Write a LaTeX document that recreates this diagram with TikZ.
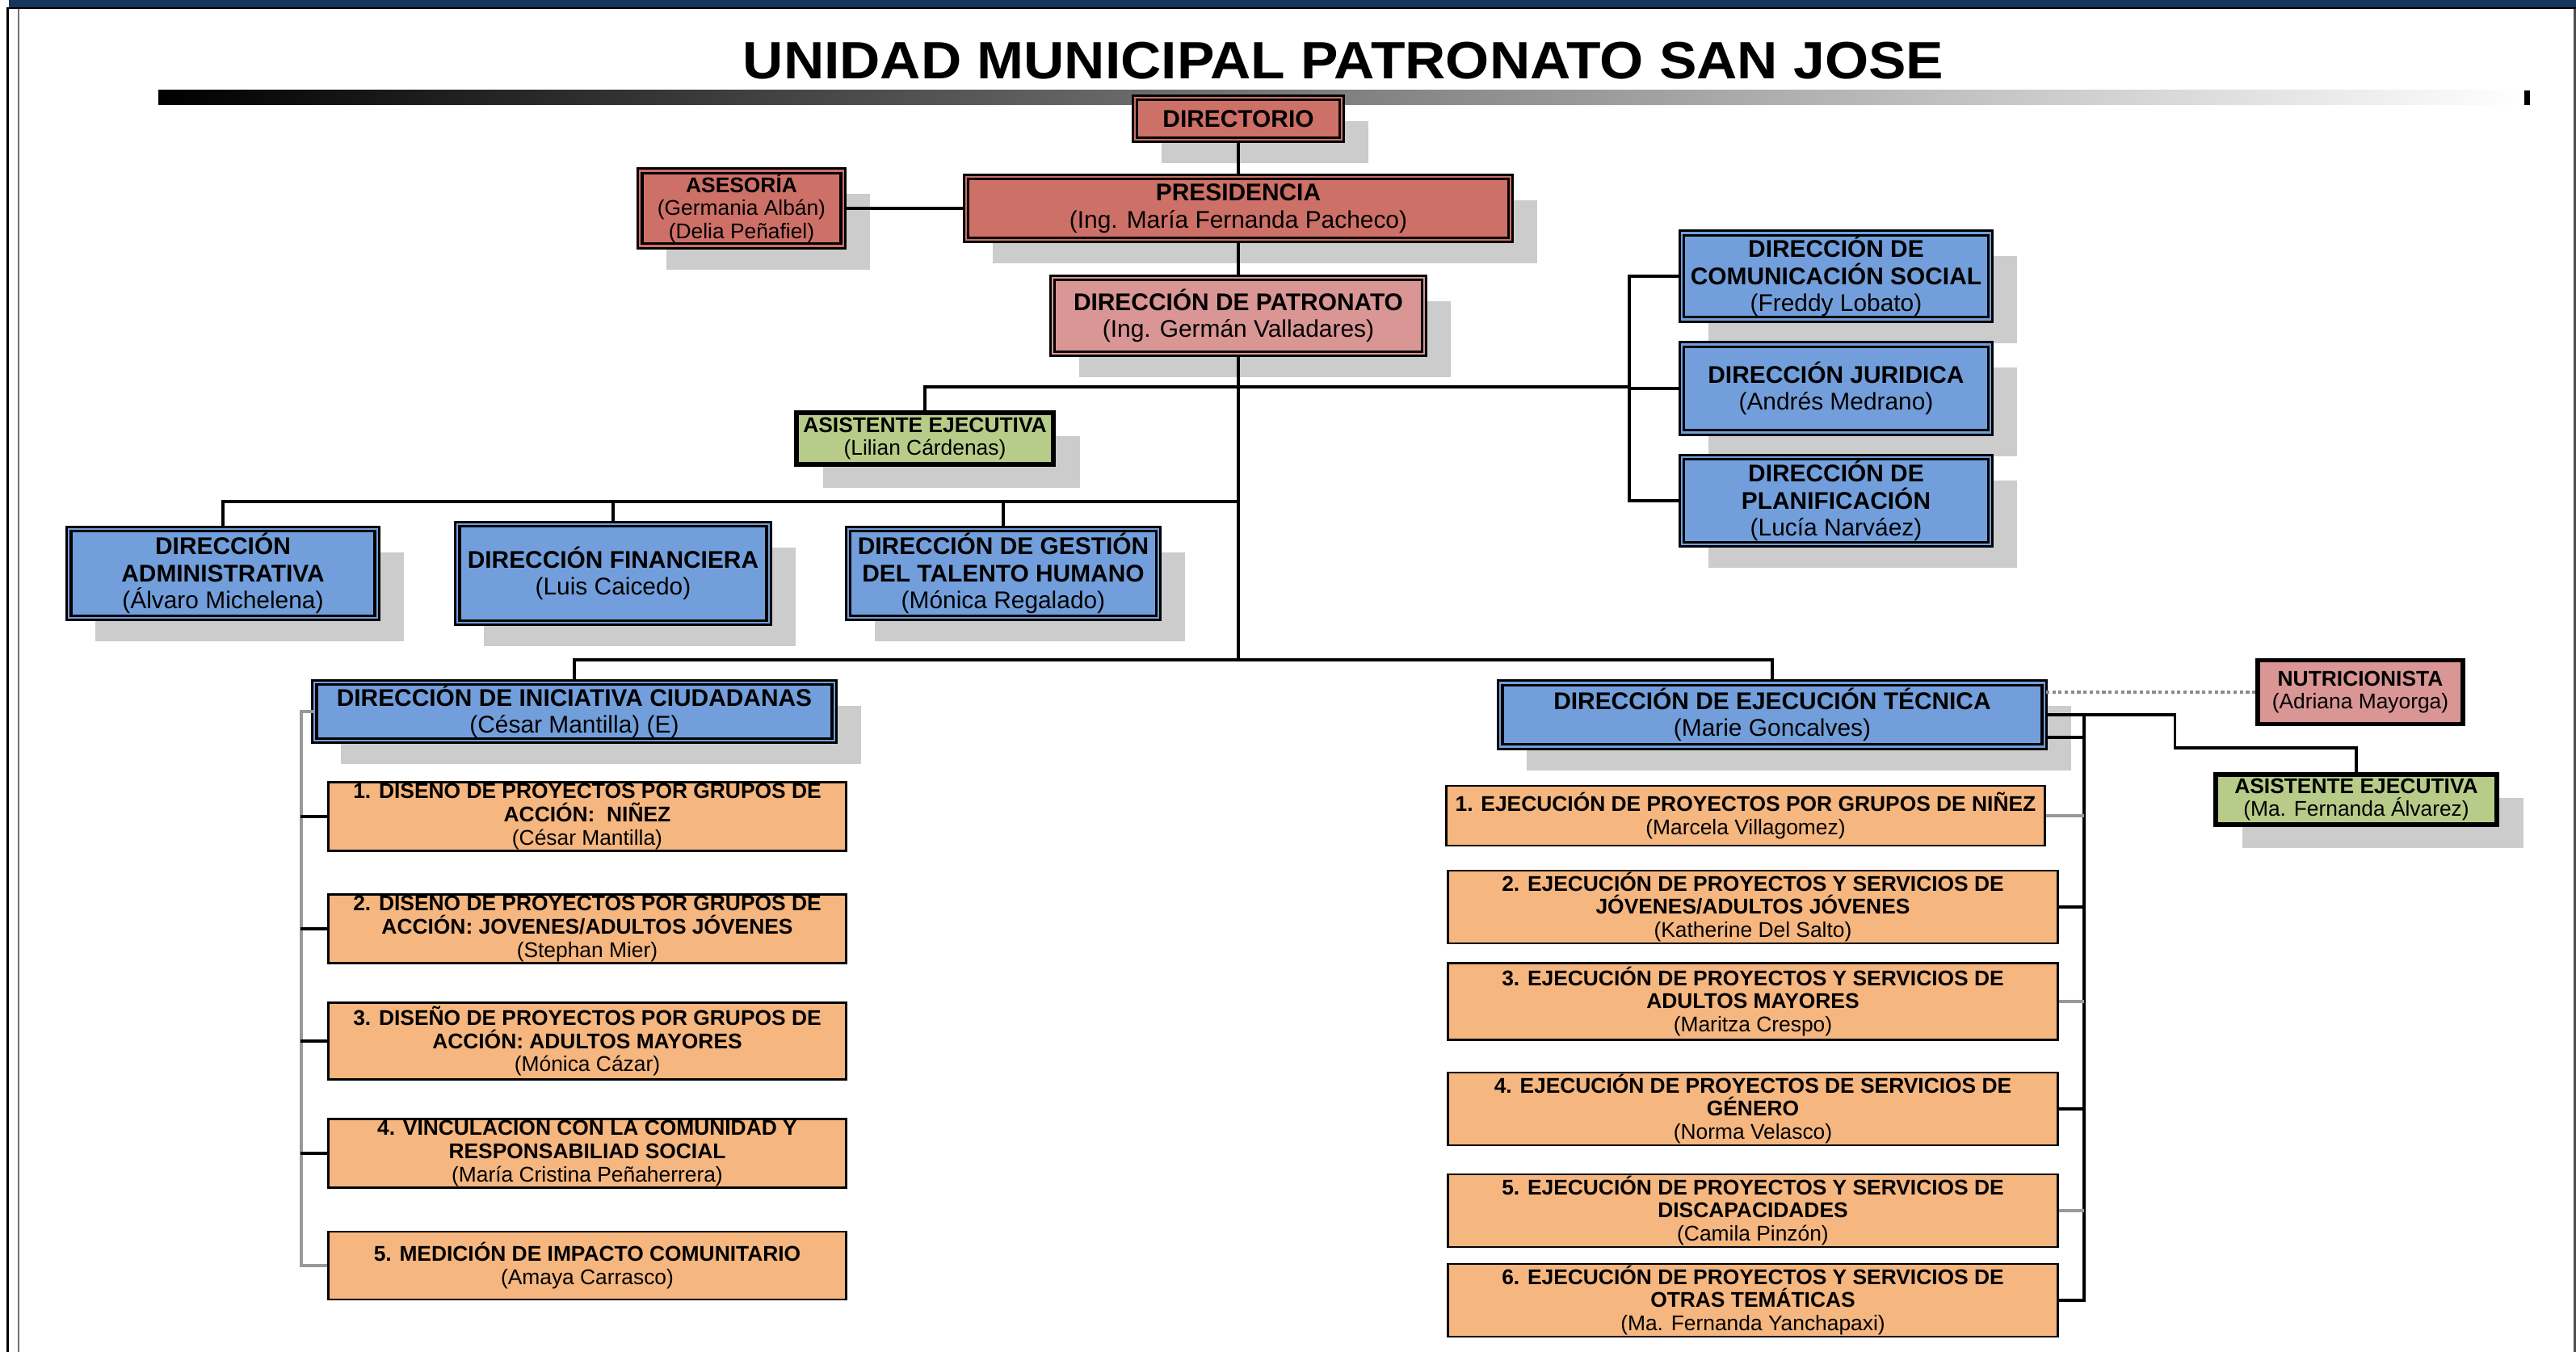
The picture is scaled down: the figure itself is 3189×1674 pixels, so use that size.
\documentclass[tikz,border=0pt]{standalone}
\usepackage{fontspec}
\setmainfont{Liberation Sans}
\usepackage{tikz}
\usetikzlibrary{shapes.geometric, shadows}

\definecolor{navyband}{HTML}{17365D}
\definecolor{headred}{HTML}{CD7067}
\definecolor{headpink}{HTML}{D99694}
\definecolor{dirblue}{HTML}{729FDB}
\definecolor{taskorange}{HTML}{F5B67F}
\definecolor{assistgreen}{HTML}{B8CC8A}
\definecolor{shadowgray}{HTML}{CCCCCC}

\newcommand{\orgfont}{\fontsize{8.5}{9.5}\selectfont}
\newcommand{\taskfont}{\fontsize{7.5}{8.2}\selectfont}

\tikzstyle{shadowed} = [drop shadow={shadow xshift=0.33cm, shadow yshift=-0.29cm, fill=shadowgray, opacity=1}]
\tikzstyle{unit} = [rectangle, align=center, inner sep=0.5pt, draw=black, line width=0.9pt, double distance=0.6pt, font=\orgfont, shadowed]
\tikzstyle{redunit} = [unit, fill=headred, double=headred]
\tikzstyle{pinkunit} = [unit, fill=headpink, double=headpink]
\tikzstyle{blueunit} = [unit, fill=dirblue, double=dirblue]
\tikzstyle{assist} = [rectangle, align=center, inner sep=0.5pt, draw=black, line width=1.5pt, font=\taskfont]
\tikzstyle{task} = [rectangle, align=center, inner sep=0.5pt, draw=black, line width=0.8pt, fill=taskorange, font=\taskfont]
\tikzstyle{link} = [line width=0.9pt]
\tikzstyle{greylink} = [line width=1.2pt, color=black!40]
\tikzstyle{dotlink} = [line width=1.2pt, color=black!45, densely dotted]

\begin{document}
\begin{tikzpicture}[x=0.01cm, y=-0.01cm]

\useasboundingbox (0,0) rectangle (3189,1674);

% page frame and heading
\fill [navyband] (11,0) rectangle (3189,9);
\fill [black] (8,9) rectangle (3189,11);
\fill [black] (8,9) rectangle (11,1674);
\fill [black!55] (22,11) rectangle (24,1674);
\fill [black!70] (3186,11) rectangle (3189,1674);
\shade [left color=black, right color=white] (196,112) rectangle (3125,130);
\fill [black] (3125,112) rectangle (3132,130);

\node (title) [font=\bfseries\fontsize{18.5}{20}\selectfont] at (1663,75) {\scalebox{1.07}[1]{UNIDAD MUNICIPAL PATRONATO SAN JOSE}};

% top of the chart
\node (directorio)	[redunit, minimum width=2.56cm, minimum height=0.52cm]	at (1533,147)	{\textbf{DIRECTORIO}};
\node (presidencia)	[redunit, minimum width=6.74cm, minimum height=0.78cm]	at (1533,258)	{\textbf{PRESIDENCIA}\\(Ing. María Fernanda Pacheco)};
\node (asesoria)	[redunit, font=\taskfont, minimum width=2.51cm, minimum height=0.93cm]	at (918,258)	{\textbf{ASESORÍA}\\(Germania Albán)\\(Delia Peñafiel)};
\node (patronato)	[pinkunit, minimum width=4.60cm, minimum height=0.94cm]	at (1533,391)	{\textbf{DIRECCIÓN DE PATRONATO}\\(Ing. Germán Valladares)};
\node (asist1)		[assist, shadowed, fill=assistgreen, minimum width=3.18cm, minimum height=0.64cm]	at (1145,543)	{\textbf{ASISTENTE EJECUTIVA}\\(Lilian Cárdenas)};

% direcciones de apoyo
\node (comunicacion)	[blueunit, minimum width=3.82cm, minimum height=1.07cm]	at (2273,342)	{\textbf{DIRECCIÓN DE}\\\textbf{COMUNICACIÓN SOCIAL}\\(Freddy Lobato)};
\node (juridica)	[blueunit, minimum width=3.82cm, minimum height=1.09cm]	at (2273,481)	{\textbf{DIRECCIÓN JURIDICA}\\(Andrés Medrano)};
\node (planif)		[blueunit, minimum width=3.82cm, minimum height=1.08cm]	at (2273,620)	{\textbf{DIRECCIÓN DE}\\\textbf{PLANIFICACIÓN}\\(Lucía Narváez)};
\node (admin)		[blueunit, minimum width=3.81cm, minimum height=1.10cm]	at (276,710)	{\textbf{DIRECCIÓN}\\\textbf{ADMINISTRATIVA}\\(Álvaro Michelena)};
\node (financiera)	[blueunit, minimum width=3.85cm, minimum height=1.22cm]	at (759,710)	{\textbf{DIRECCIÓN FINANCIERA}\\(Luis Caicedo)};
\node (talento)		[blueunit, minimum width=3.84cm, minimum height=1.10cm]	at (1242,710)	{\textbf{DIRECCIÓN DE GESTIÓN}\\\textbf{DEL TALENTO HUMANO}\\(Mónica Regalado)};

% direcciones operativas
\node (iniciativa)	[blueunit, minimum width=6.43cm, minimum height=0.72cm]	at (711,881)	{\textbf{DIRECCIÓN DE INICIATIVA CIUDADANAS}\\(César Mantilla) (E)};
\node (ejecucion)	[blueunit, minimum width=6.73cm, minimum height=0.79cm]	at (2194,885)	{\textbf{DIRECCIÓN DE EJECUCIÓN TÉCNICA}\\(Marie Goncalves)};
\node (nutri)		[assist, fill=headpink, minimum width=2.54cm, minimum height=0.79cm]	at (2922,857)	{\textbf{NUTRICIONISTA}\\(Adriana Mayorga)};
\node (asist2)		[assist, shadowed, fill=assistgreen, minimum width=3.48cm, minimum height=0.62cm]	at (2917,990)	{\textbf{ASISTENTE EJECUTIVA}\\(Ma. Fernanda Álvarez)};

% iniciativa ciudadana
\node (ini1)	[task, minimum width=6.41cm, minimum height=0.84cm]	at (727,1011)	{\textbf{1. DISENO DE PROYECTOS POR GRUPOS DE}\\\textbf{ACCIÓN:\ \ NIÑEZ}\\(César Mantilla)};
\node (ini2)	[task, minimum width=6.41cm, minimum height=0.80cm]	at (727,1150)	{\textbf{2. DISENO DE PROYECTOS POR GRUPOS DE}\\\textbf{ACCIÓN: JOVENES/ADULTOS JÓVENES}\\(Stephan Mier)};
\node (ini3)	[task, minimum width=6.41cm, minimum height=0.95cm]	at (727,1289)	{\textbf{3. DISEÑO DE PROYECTOS POR GRUPOS DE}\\\textbf{ACCIÓN: ADULTOS MAYORES}\\(Mónica Cázar)};
\node (ini4)	[task, minimum width=6.41cm, minimum height=0.79cm]	at (727,1428)	{\textbf{4. VINCULACION CON LA COMUNIDAD Y}\\\textbf{RESPONSABILIAD SOCIAL}\\(María Cristina Peñaherrera)};
\node (ini5)	[task, minimum width=6.41cm, minimum height=0.84cm]	at (727,1567)	{\textbf{5. MEDICIÓN DE IMPACTO COMUNITARIO}\\(Amaya Carrasco)};

% ejecucion tecnica
\node (ej1)	[task, minimum width=7.40cm, minimum height=0.74cm]	at (2161,1010)	{\textbf{1. EJECUCIÓN DE PROYECTOS POR GRUPOS DE NIÑEZ}\\(Marcela Villagomez)};
\node (ej2)	[task, minimum width=7.54cm, minimum height=0.81cm]	at (2170,1123)	{\textbf{2. EJECUCIÓN DE PROYECTOS Y SERVICIOS DE}\\\textbf{JÓVENES/ADULTOS JÓVENES}\\(Katherine Del Salto)};
\node (ej3)	[task, minimum width=7.54cm, minimum height=0.95cm]	at (2170,1240)	{\textbf{3. EJECUCIÓN DE PROYECTOS Y SERVICIOS DE}\\\textbf{ADULTOS MAYORES}\\(Maritza Crespo)};
\node (ej4)	[task, minimum width=7.54cm, minimum height=0.86cm]	at (2170,1373)	{\textbf{4. EJECUCIÓN DE PROYECTOS DE SERVICIOS DE}\\\textbf{GÉNERO}\\(Norma Velasco)};
\node (ej5)	[task, minimum width=7.54cm, minimum height=0.81cm]	at (2170,1499)	{\textbf{5. EJECUCIÓN DE PROYECTOS Y SERVICIOS DE}\\\textbf{DISCAPACIDADES}\\(Camila Pinzón)};
\node (ej6)	[task, minimum width=7.54cm, minimum height=0.83cm]	at (2170,1610)	{\textbf{6. EJECUCIÓN DE PROYECTOS Y SERVICIOS DE}\\\textbf{OTRAS TEMÁTICAS}\\(Ma. Fernanda Yanchapaxi)};

% bus points
\coordinate (rbus) at (2017,479);
\coordinate (lbus) at (1533,621);
\coordinate (trunkend) at (1533,817);
\coordinate (ebr) at (2580,885);

\draw [link] (directorio) -- (presidencia);
\draw [link] (asesoria) -- (presidencia);
\draw [link] (presidencia) -- (patronato);
\draw [link] (patronato.south) -- (trunkend);
\draw [link] (asist1.north) |- (rbus);
\draw [link] (comunicacion.west) -| (rbus) |- (planif.west);
\draw [link] (juridica.west) -- (juridica.west -| rbus);
\draw [link] (admin.north) |- (lbus);
\draw [link] (financiera.north) -- (financiera.north |- lbus);
\draw [link] (talento.north) -- (talento.north |- lbus);
\draw [link] (iniciativa.north) |- (trunkend) -| (ejecucion.north);

\draw [greylink] (iniciativa.west) -- ++(-15,0) |- (ini5.west);
\draw [link] (ini1.west) -- ++(-33,0);
\draw [link] (ini2.west) -- ++(-33,0);
\draw [link] (ini3.west) -- ++(-33,0);
\draw [link] (ini4.west) -- ++(-33,0);

\draw [dotlink] (nutri.west) -- (nutri.west -| ejecucion.east);
\draw [link] (ejecucion.east) -- ++(160,0) -- ++(0,41) -| (asist2.north);
\draw [link] ([yshift=-0.28cm]ejecucion.east) -| (ebr) |- (ej6.east);
\draw [greylink] (ej1.east) -- (ej1.east -| ebr);
\draw [link] (ej2.east) -- (ej2.east -| ebr);
\draw [greylink] (ej3.east) -- (ej3.east -| ebr);
\draw [link] (ej4.east) -- (ej4.east -| ebr);
\draw [greylink] (ej5.east) -- (ej5.east -| ebr);

\end{tikzpicture}
\end{document}
